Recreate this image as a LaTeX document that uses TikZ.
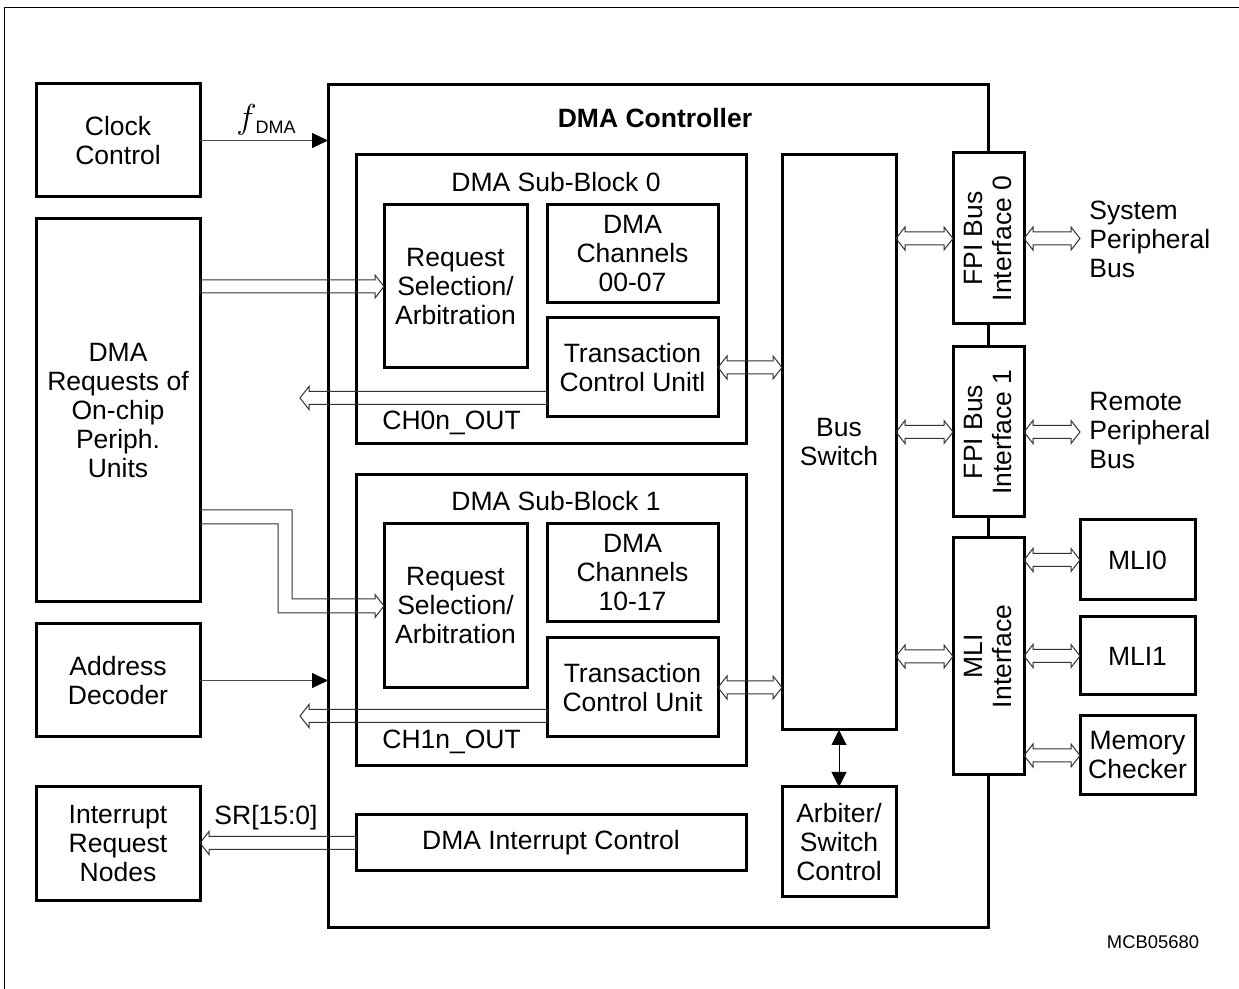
\documentclass[tikz,border=0pt]{standalone}
\usepackage{fontspec}
\setmainfont{Liberation Sans}
\usetikzlibrary{arrows.meta,calc}

\tikzset{
  box/.style={draw, line width=1.5pt, inner sep=0pt, outer sep=0pt, align=center},
  sig/.style={draw=black!70, line width=0.5pt, -{Triangle[length=8pt,width=7.5pt,color=black]}},
  sigboth/.style={draw=black, line width=0.5pt, {Triangle[length=7.5pt,width=7.5pt]}-{Triangle[length=7.5pt,width=7.5pt]}},
  wideline/.style={draw=black!80, line width=0.5pt},
  wide/.style={wideline, to path={
    let \p1=(\tikztostart), \p2=(\tikztotarget),
        \p3=($(\x2,\y1)!4.5pt!(\x1,\y1)$) in
    (\x1,\y1+3.25pt) -- (\x3,\y1+3.25pt) -- (\x3,\y1+5.75pt) -- (\x2,\y1)
    -- (\x3,\y1-5.75pt) -- (\x3,\y1-3.25pt) -- (\x1,\y1-3.25pt) -- cycle}},
  widewide/.style={wideline, to path={
    let \p1=(\tikztostart), \p2=(\tikztotarget),
        \p3=($(\x2,\y1)!4.5pt!(\x1,\y1)$), \p4=($(\x1,\y1)!4.5pt!(\x2,\y1)$) in
    (\x1,\y1) -- (\x4,\y1+5.75pt) -- (\x4,\y1+3.25pt) -- (\x3,\y1+3.25pt) -- (\x3,\y1+5.75pt)
    -- (\x2,\y1) -- (\x3,\y1-5.75pt) -- (\x3,\y1-3.25pt) -- (\x4,\y1-3.25pt) -- (\x4,\y1-5.75pt) -- cycle}}
}

\begin{document}
\begin{tikzpicture}[x=0.5pt, y=-0.5pt, font=\fontsize{13.25}{14.5}\selectfont]
   \useasboundingbox (0,0) rectangle (1239,989);
   \draw[line width=0.5pt] (4,1000) |- (1250,8);

   % outside blocks
   \node[box, minimum width=82pt, minimum height=56.5pt] (clk) at (118,140.5) {Clock\\Control};
   \node[box, minimum width=82pt, minimum height=191.5pt] (req) at (118,410.5) {DMA\\Requests of\\On-chip\\Periph.\\Units};
   \node[box, minimum width=82pt, minimum height=56.5pt] (adr) at (118,680.5) {Address\\Decoder};
   \node[box, minimum width=82pt, minimum height=57pt] (irq) at (118,844) {Interrupt\\Request\\Nodes};

   % controller
   \node[box, minimum width=330pt, minimum height=421.5pt] (dma) at (658,506.5) {};
   \node[font=\fontsize{13.25}{14.5}\selectfont\bfseries] at (655,118) {DMA Controller};

   % sub-block 0
   \node[box, minimum width=195pt, minimum height=144.5pt] (sb0) at (551,299.5) {};
   \node at (556,182) {DMA Sub-Block 0};
   \node[box, minimum width=71.5pt, minimum height=81.5pt] (rs0) at (455.5,286.5) {Request\\Selection/\\Arbitration};
   \node[box, minimum width=85.5pt, minimum height=49pt] (ch0) at (632.5,254) {DMA\\Channels\\00-07};
   \node[box, minimum width=85.5pt, minimum height=49.5pt] (tc0) at (632.5,367.5) {Transaction\\Control Unitl};
   \node[anchor=west, inner sep=0pt] at (382,423) {CH0n\_OUT};
   \coordinate (out0) at (300,398);

   % sub-block 1
   \node[box, minimum width=195pt, minimum height=145.5pt] (sb1) at (551,620.5) {};
   \node at (556,501) {DMA Sub-Block 1};
   \node[box, minimum width=71.5pt, minimum height=82pt] (rs1) at (455.5,606) {Request\\Selection/\\Arbitration};
   \node[box, minimum width=85.5pt, minimum height=49pt] (ch1) at (632.5,573) {DMA\\Channels\\10-17};
   \node[box, minimum width=85.5pt, minimum height=49.5pt] (tc1) at (632.5,687.5) {Transaction\\Control Unit};
   \node[anchor=west, inner sep=0pt] at (382,742) {CH1n\_OUT};
   \coordinate (out1) at (300,716);

   \node[box, minimum width=195pt, minimum height=28pt] (irc) at (551,843) {DMA Interrupt Control};

   % bus switch
   \node[box, minimum width=57pt, minimum height=287.5pt] (bsw) at (839,442.5) {Bus\\Switch};
   \node[box, minimum width=57pt, minimum height=55pt] (arb) at (839,842) {Arbiter/\\Switch\\Control};

   % interfaces
   \node[box, fill=white, minimum width=35.5pt, minimum height=85.5pt] (fpi0) at (988.5,238.5) {};
   \node[rotate=90, align=center] at (fpi0) {FPI Bus\\Interface 0};
   \node[box, fill=white, minimum width=35.5pt, minimum height=85pt] (fpi1) at (988.5,432) {};
   \node[rotate=90, align=center] at (fpi1) {FPI Bus\\Interface 1};
   \node[box, fill=white, minimum width=35.5pt, minimum height=118.5pt] (mli) at (988.5,656.5) {};
   \node[rotate=90, align=center] at (mli) {MLI\\Interface};

   \node[anchor=west, inner sep=4.5pt, align=left] (spb) at (1080,239) {System\\Peripheral\\Bus};
   \node[anchor=west, inner sep=4.5pt, align=left] (rpb) at (1080,431) {Remote\\Peripheral\\Bus};
   \node[box, minimum width=57.5pt, minimum height=40pt] (mli0) at (1137.5,560) {MLI0};
   \node[box, minimum width=57.5pt, minimum height=39pt] (mli1) at (1137.5,656) {MLI1};
   \node[box, minimum width=57.5pt, minimum height=39.5pt] (mchk) at (1137.5,755.5) {Memory\\Checker};

   \node[font=\fontsize{9.2}{11}\selectfont] at (1153,942) {MCB05680};

   % signals
   \draw[sig] (clk.east) -- (clk.east -| dma.west);
   \node at (266,120) {{\fontsize{17}{17}\selectfont$f$}\kern-0.5pt\raisebox{-2.5pt}{\fontsize{9}{9}\selectfont DMA}};
   \draw[sig] (adr.east) -- (adr.east -| dma.west);
   \draw[sigboth] (bsw.south) -- (arb.north);

   % buses
   \draw[wide] (req.east |- rs0.west) to (rs0.west);
   \draw[wideline] (req.east |- 0,510) -- (292,510) -- (292,599) -- (375,599) -- (375,594.5)
      -- (rs1.west) -- (375,617.5) -- (375,613) -- (278,613) -- (278,524) -- (req.east |- 0,524);
   \draw[wide] (tc0.west |- out0) to (out0);
   \draw[wide] (tc1.west |- out1) to (out1);
   \draw[wide] (irc.west) to (irq.east);
   \node at (266,818) {SR[15:0]};

   \draw[widewide] (tc0.east) to (bsw.west);
   \draw[widewide] (tc1.east) to (bsw.west);
   \draw[widewide] (bsw.east |- fpi0.west) to (fpi0.west);
   \draw[widewide] (bsw.east |- fpi1.west) to (fpi1.west);
   \draw[widewide] (bsw.east |- mli.west) to (mli.west);
   \draw[widewide] (fpi0.east) to (spb.west);
   \draw[widewide] (fpi1.east) to (rpb.west);
   \draw[widewide] (mli.east |- mli0.west) to (mli0.west);
   \draw[widewide] (mli.east |- mli1.west) to (mli1.west);
   \draw[widewide] (mli.east |- mchk.west) to (mchk.west);
\end{tikzpicture}
\end{document}
